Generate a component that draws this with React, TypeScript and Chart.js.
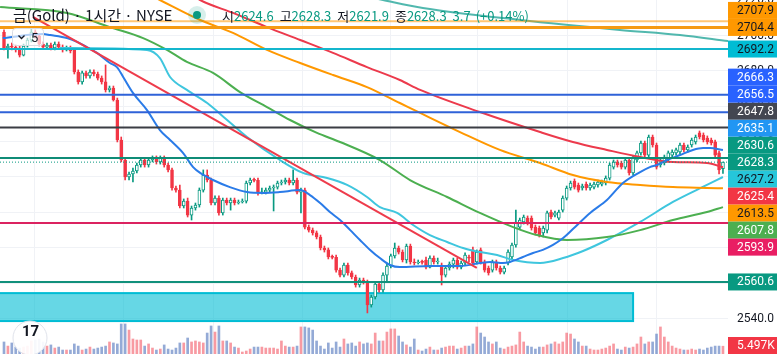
import React, { useEffect, useRef } from "react";
import { Chart, registerables } from "chart.js";

Chart.register(...registerables);

// ---------- data ----------
// each candle: [open, close, high, low]
const candles: number[][] = [
  [2701.8,2692.8,2703.0,2691.7],[2692.8,2693.9,2695.0,2687.1],[2693.9,2693.3,2695.6,2691.7],[2693.3,2691.7,2694.5,2690.5],
  [2692.8,2688.8,2693.9,2687.7],[2688.8,2693.9,2695.0,2688.3],[2693.9,2697.3,2698.4,2693.3],[2697.3,2701.8,2704.6,2696.2],
  [2701.8,2699.6,2703.0,2698.4],[2699.6,2695.0,2700.7,2693.9],[2695.0,2693.3,2696.2,2692.2],[2693.3,2694.5,2695.6,2692.2],
  [2694.5,2692.8,2695.6,2691.7],[2692.8,2695.0,2696.2,2691.7],[2695.0,2693.3,2696.2,2692.2],[2693.3,2691.7,2694.5,2690.5],
  [2691.7,2692.8,2693.9,2691.1],[2692.8,2691.1,2693.9,2690.0],[2691.7,2679.2,2692.2,2678.1],[2679.2,2673.6,2680.4,2672.4],
  [2673.6,2678.7,2679.8,2672.4],[2678.7,2677.0,2679.8,2675.8],[2677.0,2679.2,2680.4,2675.8],[2679.2,2678.1,2680.4,2677.0],
  [2678.1,2675.8,2679.2,2674.7],[2675.8,2673.6,2677.0,2672.4],[2673.6,2669.1,2683.2,2667.9],[2669.1,2670.2,2671.3,2667.9],
  [2670.2,2663.4,2671.3,2662.8],[2663.4,2640.8,2664.5,2639.7],[2640.8,2629.5,2642.5,2628.4],[2629.5,2619.9,2630.6,2618.2],
  [2619.9,2621.6,2622.7,2618.2],[2621.6,2623.3,2625.0,2617.1],[2623.3,2626.7,2627.8,2622.2],[2626.7,2629.5,2630.6,2625.5],
  [2629.5,2626.7,2630.6,2625.5],[2626.7,2629.5,2630.6,2625.5],[2629.5,2630.6,2631.8,2628.4],[2630.6,2628.4,2631.8,2627.2],
  [2628.4,2630.6,2631.8,2627.2],[2630.6,2626.7,2631.8,2625.5],[2626.7,2623.9,2627.8,2622.7],[2623.9,2613.7,2625.0,2612.5],
  [2613.7,2612.5,2614.8,2611.4],[2612.5,2603.5,2615.4,2602.4],[2603.5,2606.3,2607.5,2602.4],[2606.3,2598.4,2608.0,2597.3],
  [2598.4,2602.4,2603.5,2595.6],[2602.4,2604.1,2605.2,2601.2],[2604.1,2612.5,2613.7,2602.9],[2612.5,2621.0,2623.9,2611.4],
  [2621.0,2618.2,2623.9,2617.1],[2618.2,2605.2,2619.3,2604.1],[2605.2,2608.0,2609.2,2604.1],[2608.0,2599.6,2609.2,2598.4],
  [2599.6,2606.9,2608.0,2598.4],[2606.9,2605.2,2608.0,2604.1],[2605.2,2606.9,2608.0,2601.2],[2606.9,2605.2,2608.0,2604.1],
  [2605.2,2605.8,2606.9,2604.6],[2605.8,2606.3,2607.5,2605.2],[2606.3,2616.5,2617.6,2605.2],[2616.5,2618.2,2619.3,2615.4],
  [2618.2,2618.0,2619.3,2617.1],[2618.0,2610.9,2619.3,2609.7],[2610.9,2611.4,2613.7,2610.3],[2611.4,2612.5,2613.7,2610.3],
  [2612.5,2613.7,2614.8,2611.4],[2613.7,2614.2,2615.4,2600.7],[2614.2,2616.5,2617.6,2613.1],[2616.5,2617.1,2618.2,2615.4],
  [2617.1,2618.2,2619.3,2615.9],[2618.2,2616.5,2619.3,2615.4],[2616.5,2618.2,2623.9,2615.4],[2618.2,2611.4,2619.3,2610.3],
  [2611.4,2612.5,2613.7,2599.6],[2612.5,2591.6,2613.7,2590.5],[2591.6,2589.9,2592.8,2588.8],[2589.9,2588.3,2591.1,2587.1],
  [2588.3,2586.0,2589.4,2584.9],[2586.0,2579.8,2587.1,2578.7],[2579.8,2578.7,2580.9,2577.5],[2578.7,2574.7,2579.8,2573.6],
  [2574.7,2574.5,2575.8,2573.6],[2574.5,2567.3,2575.8,2566.2],[2567.3,2564.5,2568.5,2563.4],[2564.5,2570.2,2571.3,2563.4],
  [2570.2,2565.7,2571.3,2564.5],[2565.7,2563.4,2566.8,2562.3],[2563.4,2558.9,2564.5,2557.7],[2558.9,2561.7,2562.8,2557.7],
  [2561.7,2560.6,2562.8,2559.4],[2560.6,2547.6,2561.7,2543.1],[2547.6,2552.1,2553.2,2546.4],[2552.1,2559.4,2560.6,2551.0],
  [2559.4,2556.1,2560.6,2554.9],[2556.1,2564.5,2565.7,2554.9],[2564.5,2569.6,2571.3,2560.6],[2569.6,2575.3,2576.4,2568.5],
  [2575.3,2579.8,2582.6,2574.1],[2579.8,2577.5,2580.9,2576.4],[2577.5,2573.0,2578.7,2571.9],[2573.0,2580.9,2582.0,2571.3],
  [2580.9,2571.9,2582.0,2570.7],[2571.9,2571.3,2573.6,2570.2],[2571.3,2571.9,2573.0,2570.7],[2571.9,2571.7,2573.0,2570.7],
  [2573.0,2569.0,2574.7,2567.9],[2569.0,2574.1,2575.3,2568.5],[2574.1,2571.9,2575.3,2570.7],[2571.9,2572.1,2574.1,2570.7],
  [2570.2,2564.5,2571.3,2558.9],[2564.5,2568.5,2569.6,2563.4],[2568.5,2570.7,2571.9,2567.3],[2570.7,2573.0,2574.1,2568.5],
  [2573.0,2569.0,2574.1,2567.9],[2569.0,2571.3,2572.4,2567.9],[2571.3,2575.8,2577.0,2570.2],[2574.7,2574.1,2575.8,2571.9],
  [2578.7,2571.3,2580.3,2570.2],[2571.9,2577.5,2578.7,2570.7],[2578.7,2571.9,2579.8,2570.7],[2571.9,2567.3,2573.0,2566.2],
  [2568.5,2565.7,2569.6,2564.5],[2567.3,2571.9,2573.0,2566.2],[2571.9,2568.5,2573.0,2567.3],[2568.5,2566.2,2569.6,2565.1],
  [2566.2,2568.5,2569.6,2565.1],[2571.3,2577.5,2578.7,2570.2],[2574.7,2581.5,2582.6,2573.6],[2581.5,2594.5,2601.2,2580.3],
  [2591.6,2595.6,2596.7,2590.5],[2594.5,2597.3,2598.4,2593.3],[2596.7,2593.9,2597.9,2592.8],[2596.7,2591.1,2597.9,2589.9],
  [2591.6,2588.3,2592.8,2587.1],[2591.1,2587.1,2592.2,2586.0],[2588.3,2591.1,2592.2,2586.0],[2589.9,2599.6,2600.7,2588.3],
  [2600.1,2597.3,2601.2,2596.2],[2598.4,2599.6,2600.7,2597.3],[2596.7,2600.1,2601.2,2595.6],[2601.2,2608.0,2609.2,2600.1],
  [2608.0,2613.7,2614.8,2606.9],[2613.7,2616.5,2617.6,2612.5],[2617.6,2614.2,2618.8,2613.1],[2615.4,2612.5,2616.5,2611.4],
  [2613.7,2614.8,2615.9,2612.5],[2615.9,2613.7,2617.1,2612.5],[2613.7,2615.4,2616.5,2612.5],[2614.2,2615.9,2617.1,2613.1],
  [2615.4,2617.1,2618.2,2614.2],[2615.9,2617.1,2618.2,2614.8],[2616.5,2619.3,2620.5,2615.4],[2619.3,2626.7,2627.8,2618.2],
  [2625.5,2628.4,2629.5,2624.4],[2628.4,2626.7,2629.5,2625.5],[2627.8,2625.5,2628.9,2624.4],[2625.5,2629.5,2630.6,2624.4],
  [2629.5,2622.2,2630.6,2621.0],[2622.2,2630.6,2631.8,2621.0],[2629.5,2633.5,2634.6,2628.4],[2633.5,2639.1,2640.2,2632.3],
  [2639.1,2632.3,2640.2,2631.2],[2632.3,2642.5,2643.6,2631.2],[2642.5,2638.0,2643.6,2636.8],[2638.0,2625.5,2639.1,2624.4],
  [2626.7,2629.5,2630.6,2625.5],[2627.8,2631.2,2632.3,2626.7],[2629.5,2633.5,2634.6,2628.4],[2632.3,2634.0,2635.2,2631.2],
  [2633.5,2635.2,2636.3,2632.3],[2634.0,2638.0,2639.1,2632.9],[2638.0,2635.2,2639.1,2634.0],[2635.2,2636.8,2638.0,2634.0],
  [2638.0,2640.8,2641.9,2636.8],[2639.7,2642.5,2643.6,2638.5],[2644.8,2642.5,2645.9,2641.4],[2643.6,2640.8,2644.8,2639.7],
  [2641.9,2639.7,2643.1,2638.5],[2640.8,2639.1,2641.9,2638.0],[2639.7,2632.3,2640.8,2631.2],[2633.5,2623.9,2634.6,2621.6],
  [2624.6,2628.3,2628.3,2621.9],
];

// volume in thousands
const volumes: number[] = [
  8.5,5.6,7.8,4.9,4.2,4.9,5.6,9.2,9.9,10.6, 8.5,5.6,6.4,4.2,4.9,2.8,2.8,2.8,7.1,5.6,
  2.8,3.5,4.9,3.5,4.2,4.9,5.6,8.5,7.8,7.1, 21.2,21.2,16.9,10.6,9.9,9.9,5.6,7.1,4.2,2.8,
  3.5,6.4,3.5,2.8,4.2,7.8,7.8,11.3,8.5,9.2, 8.5,7.8,14.8,19.8,15.5,19.8,9.2,9.2,7.8,4.9,
  4.2,1.4,2.1,3.5,4.9,4.9,4.9,4.2,4.2,4.2, 3.5,9.2,5.6,4.9,4.9,5.6,19.1,19.1,18.4,16.9,
  9.2,5.6,3.5,7.8,4.2,8.5,4.9,10.6,7.1,7.8, 5.6,8.5,7.1,7.8,7.1,14.8,9.2,
  9.2,15.5,17.7,17.7,12.7,8.5,6.4,4.9,10.6,2.8, 2.1,3.5,4.9,2.8,2.8,4.2,4.9,5.6,5.6,3.5,
  4.2,5.6,5.6,7.1,19.1,14.8,12.0,8.5,7.1,8.5, 4.2,3.5,4.9,5.6,6.4,15.5,8.5,5.6,4.9,3.5,
  4.9,4.9,6.4,7.1,8.5,7.1,8.5,14.8,14.1,10.6, 8.5,5.6,5.6,3.5,2.8,2.8,3.5,4.2,5.6,7.1,
  3.5,2.8,4.9,4.2,4.9,7.1,12.0,7.1,8.5,8.5, 14.1,19.1,12.0,8.5,5.6,4.2,3.5,2.8,2.8,3.5,
  2.8,3.5,2.8,4.2,4.9,5.6,5.6,5.497,
];

// indicator lines: [bar index, price]
const blueStep: number[][] = [
  [-0.3,2698.4],[10.0,2700.7],[11.8,2700.1],[16.1,2698.4],[18.7,2696.2],[21.2,2693.3],[23.8,2690.0],[27.1,2684.3],
  [28.9,2682.0],[30.5,2676.4],[33.0,2667.4],[36.6,2657.7],[39.9,2646.4],[42.5,2640.8],[45.8,2633.5],[48.4,2625.5],
  [50.2,2622.2],[53.5,2618.2],[57.8,2614.2],[62.2,2611.4],[66.3,2610.9],[70.6,2611.4],[75.8,2612.5],[78.3,2609.7],
  [80.9,2605.2],[83.4,2600.1],[86.0,2595.6],[88.6,2589.9],[91.1,2584.3],[93.7,2578.7],[96.2,2574.1],[98.8,2570.2],
  [101.3,2569.0],[109.0,2569.6],[116.7,2569.6],[121.8,2571.3],[124.4,2571.9],[127.7,2571.3],[129.5,2571.9],[132.8,2574.7],
  [135.4,2577.0],[137.9,2578.7],[140.5,2581.5],[143.1,2585.4],[145.6,2590.5],[150.0,2599.6],[154.3,2606.9],[158.4,2616.5],
  [162.8,2622.7],[165.3,2625.5],[167.1,2626.7],[169.7,2629.5],[173.0,2632.3],[176.3,2635.2],[178.9,2636.3],[180.7,2636.3],
  [184.0,2635.1],
];
const cyanMA: number[][] = [
  [14.3,2692.8],[36.6,2691.7],[39.9,2687.1],[42.5,2676.4],[46.8,2669.1],[52.0,2661.7],[57.1,2652.1],[62.2,2642.5],
  [70.6,2629.5],[76.5,2622.2],[82.7,2619.3],[87.8,2615.4],[92.9,2608.6],[96.2,2602.9],[100.6,2599.6],[104.7,2592.8],
  [109.0,2587.1],[113.4,2583.2],[117.5,2579.8],[121.8,2577.5],[126.2,2575.8],[130.3,2573.0],[137.2,2571.3],[143.1,2574.1],
  [148.2,2578.1],[154.3,2584.3],[162.8,2594.5],[171.2,2605.8],[179.9,2615.4],[184.0,2619.9],
];
const greenMA: number[][] = [
  [-1.0,2715.9],[16.1,2712.6],[27.1,2704.6],[35.6,2698.4],[41.7,2691.7],[46.8,2684.9],[53.5,2678.7],[60.4,2667.9],
  [67.3,2659.4],[73.2,2652.1],[80.1,2644.8],[86.0,2639.7],[96.2,2629.5],[103.9,2618.2],[113.4,2608.6],[121.8,2599.6],
  [130.3,2591.6],[136.4,2587.1],[144.1,2584.3],[154.3,2586.0],[162.8,2589.9],[171.2,2595.6],[179.9,2600.1],[184.0,2602.9],
];
const orangeMA: number[][] = [
  [32.2,2728.4],[39.9,2719.9],[50.2,2708.6],[58.6,2701.3],[67.3,2691.7],[75.8,2684.3],[84.2,2677.5],[92.9,2670.7],
  [101.3,2661.7],[106.5,2656.1],[116.7,2645.3],[126.9,2635.2],[137.2,2627.8],[145.6,2621.0],[154.3,2617.1],[162.8,2615.4],
  [171.2,2614.2],[179.9,2613.7],[184.0,2613.5],
];
const redMA: number[][] = [
  [42.5,2731.2],[50.2,2719.9],[58.6,2712.6],[67.3,2704.6],[75.8,2697.3],[84.2,2690.0],[92.9,2682.0],[101.3,2674.7],
  [106.5,2669.1],[121.8,2656.6],[137.2,2645.3],[145.6,2639.7],[154.3,2635.2],[162.8,2631.2],[171.2,2628.4],[179.9,2627.8],
  [184.0,2625.4],
];
const redTrend: number[][] = [[7.4,2710.3],[121.0,2568.5]];
const tealLine: number[][] = [[88.5,2723.9],[97.0,2719.9],[107.2,2715.4],[132.1,2708.6],[157.6,2703.0],[173.0,2700.1],[185.3,2696.7]];

const levels: number[] = [2707.9, 2704.4, 2692.2, 2666.3, 2656.5, 2647.8, 2630.6, 2593.9, 2560.6];
const lastPrice = 2628.3;
const maLast: number[] = [2635.1, 2627.2, 2625.4, 2613.5, 2607.8]; // blue, cyan, red, orange, green
const zone: number[] = [-4, 161, 2554.3, 2538.5]; // from bar, to bar, top price, bottom price
const dayBreaks: number[] = [7.9, 30.7, 53.5, 76.3, 98.8, 121.3, 144.1, 167.1];
const yTicks: number[] = [2540, 2560, 2580, 2600, 2620, 2640, 2660, 2680, 2700, 2720];
const yRange: number[] = [2519.9, 2719.9];
const xRange: number[] = [-1.024, 185.29];
const volMax = 250;
const titleText = "금(Gold) · 1시간 · NYSE";
const ohlcNames: string[] = ["시", "고", "저", "종"];
const indicatorLen = "5";

// ---------- styles ----------
const UP = "#089981";
const DOWN = "#f23645";
const FONT = "Roboto, 'Liberation Sans', sans-serif";
const KFONT = "'Noto Sans CJK KR', 'Noto Sans', sans-serif";
const levelStyles = [
  { color: "rgba(255,152,0,0.55)", width: 2, bg: "#ff9800", fg: "#131722" },
  { color: "#f59a12", width: 3, bg: "#ff9800", fg: "#131722" },
  { color: "#14b6cd", width: 2, bg: "#00bcd4", fg: "#131722" },
  { color: "#2f62d8", width: 2, bg: "#2962ff", fg: "#ffffff" },
  { color: "#2f62d8", width: 2, bg: "#2962ff", fg: "#ffffff" },
  { color: "#3b3d44", width: 2, bg: "#434651", fg: "#ffffff" },
  { color: "#0f8c77", width: 2, bg: "#089981", fg: "#ffffff" },
  { color: "#db2360", width: 2, bg: "#e91e63", fg: "#ffffff" },
  { color: "#11907b", width: 2, bg: "#089981", fg: "#ffffff" },
];
const maTagStyles = [
  { bg: "#2196f3", fg: "#ffffff" },
  { bg: "#26c6da", fg: "#131722" },
  { bg: "#f23645", fg: "#ffffff" },
  { bg: "#ff9800", fg: "#131722" },
  { bg: "#4caf50", fg: "#ffffff" },
];

const toXY = (pts: number[][]) => pts.map(([x, y]) => ({ x, y }));

function lineDs(pts: number[][], color: string, width: number, order: number, smooth = true, extra: any = {}) {
  return {
    type: "line" as const,
    data: toXY(pts),
    borderColor: color,
    borderWidth: width,
    pointRadius: 0,
    pointHoverRadius: 0,
    fill: false,
    tension: smooth ? 0.4 : 0,
    cubicInterpolationMode: smooth ? ("monotone" as const) : ("default" as const),
    order,
    ...extra,
  };
}

const overlayPlugin = {
  id: "tvOverlay",
  beforeDraw(chart: any) {
    const { ctx, width, height } = chart;
    ctx.save();
    ctx.fillStyle = "#ffffff";
    ctx.fillRect(0, 0, width, height);
    ctx.restore();
  },
  beforeDatasetsDraw(chart: any) {
    const { ctx, chartArea: a, scales } = chart;
    const x = scales.x, y = scales.y;
    const x0 = Math.max(a.left - 3, x.getPixelForValue(zone[0]));
    const x1 = x.getPixelForValue(zone[1]);
    const y0 = y.getPixelForValue(zone[2]);
    const y1 = y.getPixelForValue(zone[3]);
    ctx.save();
    ctx.beginPath();
    ctx.rect(a.left, a.top, a.right - a.left, a.bottom - a.top);
    ctx.clip();
    ctx.fillStyle = "rgba(0,188,212,0.6)";
    ctx.fillRect(x0, y0, x1 - x0, y1 - y0);
    ctx.strokeStyle = "#00bcd4";
    ctx.lineWidth = 2;
    ctx.strokeRect(x0, y0, x1 - x0, y1 - y0);
    ctx.restore();
  },
  afterDraw(chart: any) {
    const { ctx, chartArea: a, scales, width } = chart;
    const y = scales.y;
    const yv = scales.yv;
    ctx.save();

    // price scale tick labels (drawn from the scale, covered by the tags)
    ctx.font = `12px ${FONT}`;
    ctx.textBaseline = "middle";
    ctx.textAlign = "left";
    ctx.fillStyle = "#131722";
    yTicks.forEach((v) => {
      ctx.fillText(v.toFixed(1), a.right + 9, y.getPixelForValue(v) + 0.5);
    });

    // price tags on the right scale
    const H = 17;
    const tags: { v: number; bg: string; fg: string }[] = [
      ...levels.map((v, i) => ({ v, bg: levelStyles[i].bg, fg: levelStyles[i].fg })),
      ...maLast.map((v, i) => ({ v, bg: maTagStyles[i].bg, fg: maTagStyles[i].fg })),
    ];
    const yc = y.getPixelForValue(lastPrice);
    const placed: { v: number; bg: string; fg: string; py: number }[] = [
      { v: lastPrice, bg: UP, fg: "#ffffff", py: yc },
    ];
    let prev = yc;
    tags.filter((t) => t.v > lastPrice).sort((p, q) => p.v - q.v).forEach((t) => {
      const py = Math.min(y.getPixelForValue(t.v), prev - H);
      placed.push({ ...t, py });
      prev = py;
    });
    prev = yc;
    tags.filter((t) => t.v < lastPrice).sort((p, q) => q.v - p.v).forEach((t) => {
      const py = Math.max(y.getPixelForValue(t.v), prev + H);
      placed.push({ ...t, py });
      prev = py;
    });
    placed.forEach((t) => {
      ctx.fillStyle = t.bg;
      ctx.fillRect(a.right, t.py - H / 2, width - a.right, H);
      ctx.fillStyle = t.fg;
      ctx.fillText(t.v.toFixed(1), a.right + 9, t.py + 0.5);
    });

    // last volume tag
    const lastVol = volumes[volumes.length - 1];
    const vy = Math.min(yv.getPixelForValue(lastVol), a.bottom - H / 2);
    const lc = candles[candles.length - 1];
    ctx.fillStyle = lc[1] >= lc[0] ? DOWN : "#5a78b4";
    ctx.fillRect(a.right, vy - H / 2, width - a.right, H);
    ctx.fillStyle = "#ffffff";
    ctx.fillText(lastVol.toFixed(3) + "K", a.right + 9, vy + 0.5);

    // title
    ctx.textBaseline = "alphabetic";
    ctx.fillStyle = "#131722";
    ctx.font = `15px ${KFONT}`;
    ctx.fillText(titleText, 13, 21);

    // status dot
    ctx.beginPath();
    ctx.fillStyle = "rgba(8,153,129,0.16)";
    ctx.arc(197, 15, 9, 0, Math.PI * 2);
    ctx.fill();
    ctx.beginPath();
    ctx.fillStyle = UP;
    ctx.arc(197, 15, 4, 0, Math.PI * 2);
    ctx.fill();

    // OHLC legend
    const valCol = lc[1] >= lc[0] ? UP : DOWN;
    const vals = [lc[0], lc[2], lc[3], lc[1]];
    ctx.font = `13px ${KFONT}`;
    let tx = 222;
    ohlcNames.forEach((n, i) => {
      ctx.fillStyle = "#131722";
      ctx.fillText(n, tx, 21);
      tx += ctx.measureText(n).width;
      const s = vals[i].toFixed(1);
      ctx.fillStyle = valCol;
      ctx.fillText(s, tx, 21);
      tx += ctx.measureText(s).width + 6;
    });
    const chg = lc[1] - lc[0];
    const chgS = chg.toFixed(1);
    ctx.fillStyle = valCol;
    ctx.fillText(chgS, tx, 21);
    tx += ctx.measureText(chgS).width + 5;
    ctx.fillText(`(${chg >= 0 ? "+" : ""}${((chg / lc[0]) * 100).toFixed(2)}%)`, tx, 21);

    // indicator toggle box
    ctx.fillStyle = "rgba(255,255,255,0.65)";
    ctx.strokeStyle = "#d9dce3";
    ctx.lineWidth = 1;
    ctx.beginPath();
    (ctx as any).roundRect ? (ctx as any).roundRect(12.5, 28.5, 31, 17, 3) : ctx.rect(12.5, 28.5, 31, 17);
    ctx.fill();
    ctx.stroke();
    ctx.beginPath();
    ctx.strokeStyle = "#131722";
    ctx.lineWidth = 1.3;
    ctx.moveTo(18.5, 35.5);
    ctx.lineTo(21.5, 38.5);
    ctx.lineTo(24.5, 35.5);
    ctx.stroke();
    ctx.fillStyle = "#131722";
    ctx.font = `13px ${FONT}`;
    ctx.fillText(indicatorLen, 31, 42);

    // logo
    ctx.beginPath();
    ctx.arc(30, 338, 17, 0, Math.PI * 2);
    ctx.fillStyle = "rgba(255,255,255,0.92)";
    ctx.fill();
    ctx.strokeStyle = "#e0e3eb";
    ctx.lineWidth = 1;
    ctx.stroke();
    ctx.fillStyle = "#131722";
    ctx.font = `bold 15px ${FONT}`;
    ctx.fillText("17", 22, 336);

    ctx.restore();
  },
};

export default function App() {
  const ref = useRef<HTMLCanvasElement | null>(null);

  useEffect(() => {
    document.body.style.margin = "0";
    const canvas = ref.current;
    if (!canvas) return;

    const isUp = (c: number[]) => c[1] >= c[0];

    const hLevelSets = levels.map((v, i) =>
      lineDs([[xRange[0], v], [xRange[1], v]], levelStyles[i].color, levelStyles[i].width, 1, false)
    );

    const chart = new Chart(canvas, {
      type: "bar",
      data: {
        datasets: [
          {
            type: "bar",
            yAxisID: "yv",
            data: volumes.map((v, i) => ({ x: i, y: v })),
            backgroundColor: candles.map((c) => (isUp(c) ? "rgba(242,54,69,0.5)" : "rgba(60,100,180,0.55)")),
            barThickness: 2,
            grouped: false,
            order: 20,
          } as any,
          {
            type: "bar",
            yAxisID: "y",
            data: candles.map((c, i) => ({ x: i, y: [c[3], c[2]] })),
            backgroundColor: candles.map((c) => (isUp(c) ? UP : DOWN)),
            barThickness: 1,
            grouped: false,
            order: 12,
          } as any,
          {
            type: "bar",
            yAxisID: "y",
            data: candles.map((c, i) => ({ x: i, y: [c[0], c[1]] })),
            backgroundColor: candles.map((c) => (isUp(c) ? "#ffffff" : DOWN)),
            borderColor: candles.map((c) => (isUp(c) ? UP : DOWN)),
            borderWidth: 1,
            borderSkipped: false,
            barThickness: 3,
            minBarLength: 1,
            grouped: false,
            order: 11,
          } as any,
          lineDs(greenMA, "#4caf50", 2, 5),
          lineDs(orangeMA, "#ff9800", 2, 5),
          lineDs(redMA, "#ec3a4c", 2, 5),
          lineDs(cyanMA, "#3fc6de", 2, 5),
          lineDs(tealLine, "rgba(38,166,154,0.8)", 2, 5),
          lineDs(redTrend, "#ee3b4b", 2, 4, false),
          lineDs(blueStep, "#2a7be8", 2, 4),
          ...hLevelSets,
          lineDs([[xRange[0], lastPrice], [xRange[1], lastPrice]], UP, 1, 0, false, { borderDash: [1, 2] }),
        ] as any,
      },
      options: {
        animation: false,
        responsive: true,
        maintainAspectRatio: false,
        devicePixelRatio: 1,
        events: [],
        layout: { padding: 0 },
        plugins: { legend: { display: false }, tooltip: { enabled: false } },
        scales: {
          x: {
            type: "linear",
            min: xRange[0],
            max: xRange[1],
            offset: false,
            afterBuildTicks: (s: any) => {
              s.ticks = dayBreaks.map((v) => ({ value: v }));
            },
            afterFit: (s: any) => {
              s.height = 0;
            },
            ticks: { display: false },
            grid: { color: "#f0f2f6", drawTicks: false, offset: false },
            border: { display: false },
          },
          y: {
            type: "linear",
            position: "right",
            min: yRange[0],
            max: yRange[1],
            afterBuildTicks: (s: any) => {
              s.ticks = yTicks.map((v) => ({ value: v }));
            },
            afterFit: (s: any) => {
              s.width = 49;
            },
            ticks: { display: false },
            grid: { color: "#f0f2f6", drawTicks: false },
            border: { display: false },
          },
          yv: {
            type: "linear",
            display: false,
            min: 0,
            max: volMax,
          },
        },
      } as any,
      plugins: [overlayPlugin],
    });

    return () => chart.destroy();
  }, []);

  return (
    <div style={{ position: "relative", width: 777, height: 354 }}>
      <canvas ref={ref} />
    </div>
  );
}
